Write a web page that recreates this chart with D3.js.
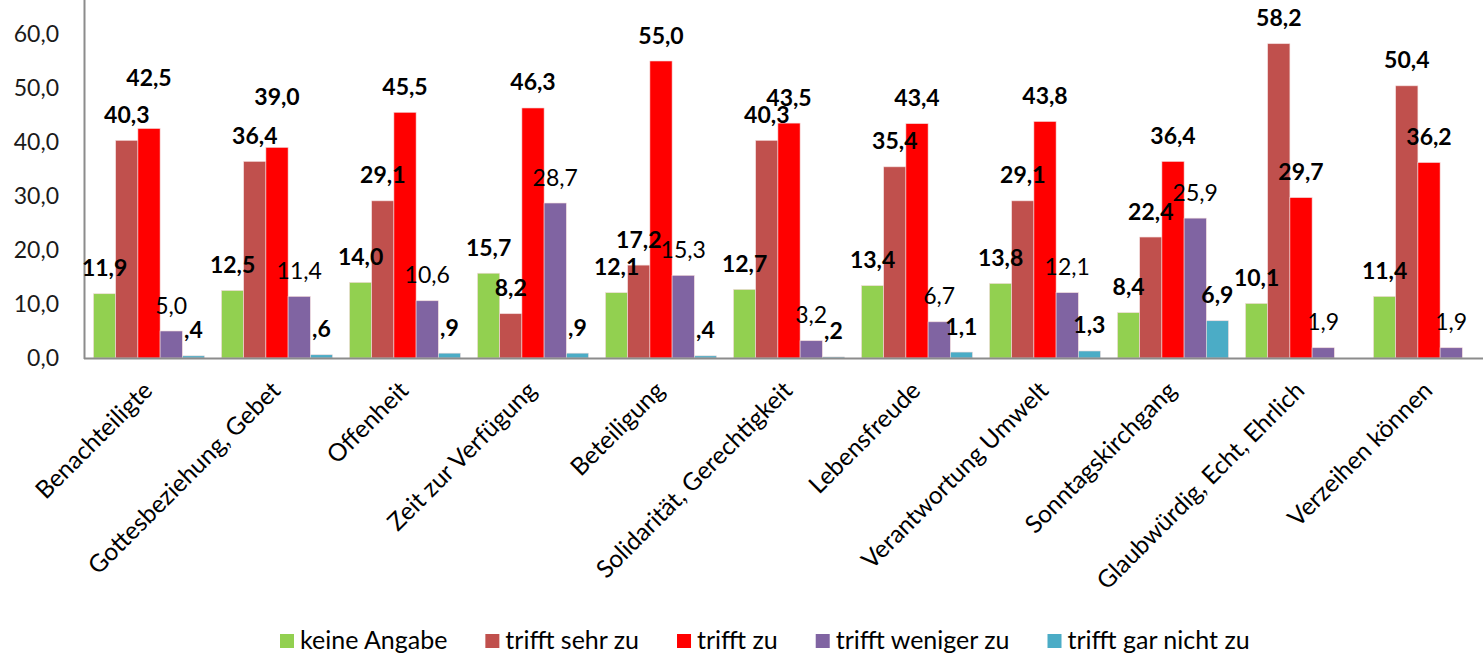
<!DOCTYPE html>
<html>
<head>
<meta charset="utf-8">
<script src="https://cdn.jsdelivr.net/npm/d3@7"></script>
<style>
  body { margin: 0; background: #fff; }
  svg { display: block; font-family: Lato, "Open Sans", sans-serif; }
</style>
</head>
<body>
<svg id="chart" width="1483" height="657"></svg>
<script>
// categories and series
var categories = ["Benachteiligte", "Gottesbeziehung, Gebet", "Offenheit", "Zeit zur Verfügung",
  "Beteiligung", "Solidarität, Gerechtigkeit", "Lebensfreude", "Verantwortung Umwelt",
  "Sonntagskirchgang", "Glaubwürdig, Echt, Ehrlich", "Verzeihen können"];

var seriesNames = ["keine Angabe", "trifft sehr zu", "trifft zu", "trifft weniger zu", "trifft gar nicht zu"];

var keineAngabe   = [11.9, 12.5, 14.0, 15.7, 12.1, 12.7, 13.4, 13.8, 8.4, 10.1, 11.4];
var trifftSehrZu  = [40.3, 36.4, 29.1, 8.2, 17.2, 40.3, 35.4, 29.1, 22.4, 58.2, 50.4];
var trifftZu      = [42.5, 39.0, 45.5, 46.3, 55.0, 43.5, 43.4, 43.8, 36.4, 29.7, 36.2];
var trifftWeniger = [5.0, 11.4, 10.6, 28.7, 15.3, 3.2, 6.7, 12.1, 25.9, 1.9, 1.9];
var trifftGarNicht = [0.4, 0.6, 0.9, 0.9, 0.4, 0.2, 1.1, 1.3, 6.9, null, null];

var yTicks = [0, 10, 20, 30, 40, 50, 60];

var values = [keineAngabe, trifftSehrZu, trifftZu, trifftWeniger, trifftGarNicht];
var colors = ["#92d050", "#c0504d", "#ff0000", "#8064a2", "#4bacc6"];
var boldLabel = [true, true, true, false, true];

var svg = d3.select("#chart");

var x0 = d3.scaleBand().domain(categories).range([85, 1493])
  .paddingInner(0.133).paddingOuter(0.0665);
var x1 = d3.scaleBand().domain(seriesNames).range([0, x0.bandwidth()]);
var y = d3.scaleLinear().domain([0, 60]).range([358, 34]);

function fmt(v) {
  var s = v.toFixed(1).replace(".", ",");
  if (v < 1) s = s.slice(1); // excel style ",4"
  return s;
}

// y axis labels
svg.append("g").selectAll("text").data(yTicks).enter().append("text")
  .attr("x", 59).attr("y", function(d) { return y(d) + 8; })
  .attr("text-anchor", "end")
  .style("font-size", "23px").style("fill", "#1a1a1a")
  .text(function(d) { return d.toFixed(1).replace(".", ","); });

// bars
var rows = [];
categories.forEach(function(c, i) {
  seriesNames.forEach(function(s, j) {
    if (values[j][i] != null) rows.push({cat: c, ser: s, j: j, i: i, v: values[j][i]});
  });
});

svg.append("g").selectAll("rect").data(rows).enter().append("rect")
  .attr("x", function(d) { return x0(d.cat) + x1(d.ser); })
  .attr("y", function(d) { return y(d.v); })
  .attr("width", x1.bandwidth())
  .attr("height", function(d) { return y(0) - y(d.v); })
  .attr("fill", function(d) { return colors[d.j]; })
  .attr("stroke", "#f2dada").attr("stroke-width", 0.6);

// axis lines
svg.append("line").attr("x1", 84.5).attr("x2", 84.5).attr("y1", 0).attr("y2", y(0) + 1)
  .attr("stroke", "#8c8c8c").attr("stroke-width", 2);
svg.append("line").attr("x1", 84).attr("x2", 1483).attr("y1", y(0) + 0.5).attr("y2", y(0) + 0.5)
  .attr("stroke", "#8c8c8c").attr("stroke-width", 2);

// value labels; the first two "trifft zu" labels sit higher in the original
svg.append("g").selectAll("text").data(rows).enter().append("text")
  .attr("x", function(d) { return x0(d.cat) + x1(d.ser) + x1.bandwidth() / 2; })
  .attr("y", function(d) {
    var lift = (d.j == 2 && d.i < 2) ? 25 : 0;
    return y(d.v) - 17.5 - lift;
  })
  .attr("text-anchor", "middle")
  .style("font-size", "23px")
  .style("font-weight", function(d) { return boldLabel[d.j] ? "bold" : "normal"; })
  .style("fill", "#000")
  .text(function(d) { return fmt(d.v); });

// category labels
svg.append("g").selectAll("text").data(categories).enter().append("text")
  .attr("transform", function(d) {
    return "translate(" + (x0(d) + x0.bandwidth() / 2 + 5) + ",392) rotate(-45)";
  })
  .attr("text-anchor", "end")
  .style("font-size", "24.5px").style("fill", "#000")
  .text(function(d) { return d; });

// legend
var lg = svg.append("g");
var lx = 280;
seriesNames.forEach(function(s, j) {
  lg.append("rect").attr("x", lx).attr("y", 634).attr("width", 14).attr("height", 14)
    .attr("fill", colors[j]);
  var t = lg.append("text").attr("x", lx + 20).attr("y", 649)
    .style("font-size", "25px").style("fill", "#000").text(s);
  lx += 20 + t.node().getComputedTextLength() + 38;
});
</script>
</body>
</html>
